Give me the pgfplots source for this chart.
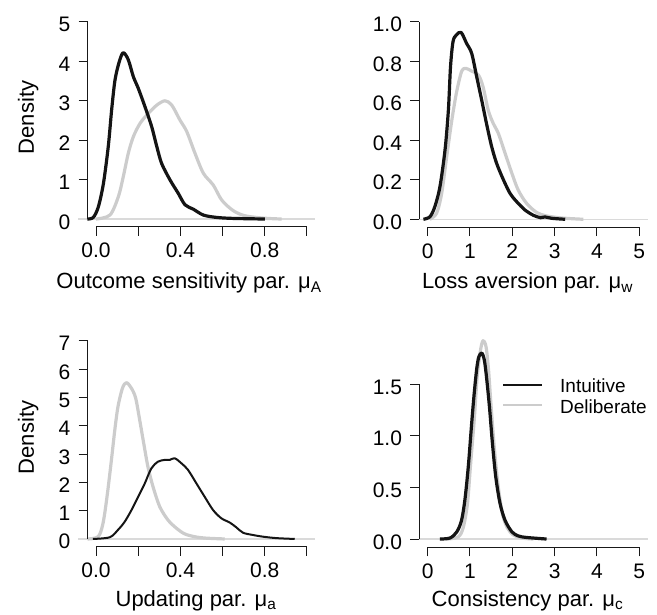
\documentclass[border=0pt]{standalone}
\usepackage{fontspec}
\setmainfont{Liberation Sans}
\usepackage{pgfplots}
\pgfplotsset{compat=1.18}
\definecolor{intu}{HTML}{141414}
\definecolor{delib}{HTML}{CCCCCC}
\definecolor{zerogray}{HTML}{DADADA}

\pgfplotsset{
  rpanel/.style={
    scale only axis, clip=false, anchor=south west,
    axis lines*=left, axis line style={draw=none},
    tick align=outside, major tick length=9pt,
    major tick style={draw=black!90, line width=1pt},
    tick label style={font=\fontsize{21}{25}\selectfont, inner sep=0pt},
    xticklabel style={anchor=base, yshift=-22pt},
    yticklabel style={anchor=base east, xshift=-8pt, yshift=-10pt},
  },
  dens/.style={smooth, line width=3.2pt, line join=round, no marks},
  zeroline/.style={zerogray, line width=1.3pt, no marks, forget plot},
}
\tikzset{axisline/.style={draw=black!90, line width=1pt}}

\begin{document}
\begin{tikzpicture}
\path[use as bounding box] (0,0) rectangle (657pt,615pt);

% top left
\begin{axis}[rpanel, at={(87.6pt,388.1pt)}, width=227.8pt, height=212.8pt,
  xmin=-0.04, xmax=1.04, ymin=-0.2, ymax=5.2,
  xtick={0,0.2,0.4,0.6,0.8,1}, xticklabels={0.0,,0.4,,0.8,},
  ytick={0,1,2,3,4,5}, yticklabels={0,1,2,3,4,5}]
\addplot[zeroline] coordinates {(-0.085,0) (1.04,0)};
\addplot[dens, delib] coordinates {
 (0.0,0) (0.066,0.1) (0.106,0.57) (0.129,1.07) (0.153,1.67) (0.177,2.09)
 (0.209,2.43) (0.248,2.68) (0.288,2.89) (0.327,3.0) (0.359,2.89) (0.398,2.51)
 (0.43,2.22) (0.469,1.67) (0.509,1.16) (0.556,0.86) (0.596,0.48) (0.651,0.21)
 (0.708,0.08) (0.8,0.02) (0.88,0)};
\addplot[dens, intu] coordinates {
 (-0.041,0) (-0.013,0.04) (0.011,0.31) (0.035,0.9) (0.058,1.84) (0.074,2.77)
 (0.09,3.53) (0.11,3.99) (0.129,4.22) (0.153,4.04) (0.177,3.61) (0.2,3.32)
 (0.232,2.85) (0.264,2.34) (0.288,1.84) (0.311,1.41) (0.351,0.99) (0.39,0.65)
 (0.422,0.36) (0.461,0.25) (0.509,0.1) (0.572,0.04) (0.65,0.015) (0.8,0)};
\draw[axisline] (axis cs:0,-0.2) -- (axis cs:1,-0.2);
\draw[axisline] (axis cs:-0.04,0) -- (axis cs:-0.04,5);
\end{axis}

% top right
\begin{axis}[rpanel, at={(419.2pt,387.8pt)}, width=228.5pt, height=213.4pt,
  xmin=-0.2, xmax=5.2, ymin=-0.04, ymax=1.04,
  xtick={0,1,2,3,4,5}, xticklabels={0,1,2,3,4,5},
  ytick={0,0.2,0.4,0.6,0.8,1}, yticklabels={0.0,0.2,0.4,0.6,0.8,1.0}]
\addplot[zeroline] coordinates {(-0.2,0) (5.2,0)};
\addplot[dens, delib] coordinates {
 (0.05,0) (0.21,0.03) (0.33,0.13) (0.45,0.317) (0.57,0.5) (0.68,0.64)
 (0.8,0.747) (0.9,0.764) (1.04,0.75) (1.2,0.73) (1.31,0.67) (1.43,0.553)
 (1.55,0.485) (1.67,0.435) (1.83,0.334) (1.99,0.233) (2.14,0.148) (2.34,0.08)
 (2.58,0.034) (2.81,0.017) (3.2,0.006) (3.68,0)};
\addplot[dens, intu] coordinates {
 (-0.1,0) (0.054,0.013) (0.17,0.064) (0.29,0.165) (0.41,0.35) (0.49,0.553)
 (0.54,0.772) (0.6,0.9) (0.68,0.933) (0.79,0.946) (0.92,0.89) (1.04,0.84)
 (1.16,0.72) (1.28,0.6) (1.39,0.485) (1.51,0.37) (1.63,0.283) (1.79,0.2)
 (1.95,0.13) (2.1,0.09) (2.3,0.047) (2.5,0.02) (2.67,0.008) (2.77,0.012)
 (2.93,0.005) (3.25,0)};
\draw[axisline] (axis cs:0,-0.04) -- (axis cs:5,-0.04);
\draw[axisline] (axis cs:-0.2,0) -- (axis cs:-0.2,1);
\end{axis}

% bottom left
\begin{axis}[rpanel, at={(87.6pt,68.1pt)}, width=227.8pt, height=214.1pt,
  xmin=-0.04, xmax=1.04, ymin=-0.28, ymax=7.28,
  xtick={0,0.2,0.4,0.6,0.8,1}, xticklabels={0.0,,0.4,,0.8,},
  ytick={0,1,2,3,4,5,6,7}, yticklabels={0,1,2,3,4,5,6,7}]
\addplot[zeroline] coordinates {(-0.085,0) (1.04,0)};
\addplot[dens, delib] coordinates {
 (-0.04,0) (0.01,0.08) (0.033,0.55) (0.052,1.49) (0.073,2.79) (0.089,3.85)
 (0.104,4.67) (0.125,5.32) (0.144,5.52) (0.168,5.32) (0.188,4.97) (0.207,4.2)
 (0.226,3.38) (0.246,2.55) (0.27,1.85) (0.302,1.14) (0.341,0.67) (0.381,0.38)
 (0.42,0.18) (0.467,0.08) (0.52,0.03) (0.61,0)};
\addplot[dens, intu, line width=2pt] coordinates {
 (-0.015,0) (0.065,0.06) (0.104,0.32) (0.136,0.61) (0.168,1.02) (0.2,1.49)
 (0.231,1.96) (0.262,2.49) (0.294,2.73) (0.325,2.79) (0.349,2.79) (0.373,2.85)
 (0.405,2.67) (0.436,2.44) (0.476,1.96) (0.515,1.49) (0.555,1.02) (0.594,0.73)
 (0.634,0.58) (0.665,0.41) (0.697,0.22) (0.744,0.14) (0.792,0.08) (0.855,0.03)
 (0.942,0)};
\draw[axisline] (axis cs:0,-0.28) -- (axis cs:1,-0.28);
\draw[axisline] (axis cs:-0.04,0) -- (axis cs:-0.04,7);
\end{axis}

% bottom right
\begin{axis}[rpanel, at={(419.2pt,67.7pt)}, width=228.5pt, height=218pt,
  xmin=-0.2, xmax=5.2, ymin=-0.08, ymax=2.03,
  xtick={0,1,2,3,4,5}, xticklabels={0,1,2,3,4,5},
  ytick={0,0.5,1,1.5}, yticklabels={0.0,0.5,1.0,1.5}]
\addplot[zeroline] coordinates {(-0.2,0) (5.2,0)};
\addplot[dens, delib] coordinates {
 (0.45,0) (0.72,0.02) (0.84,0.11) (0.94,0.34) (1.01,0.7) (1.1,1.15)
 (1.17,1.57) (1.25,1.83) (1.31,1.92) (1.38,1.86) (1.44,1.63) (1.5,1.28)
 (1.58,0.86) (1.67,0.5) (1.77,0.24) (1.88,0.11) (2.02,0.04) (2.22,0.01) (2.5,0)};
\addplot[dens, intu] coordinates {
 (0.29,0) (0.53,0.01) (0.69,0.07) (0.8,0.18) (0.88,0.38) (0.96,0.7)
 (1.04,1.12) (1.1,1.41) (1.16,1.65) (1.21,1.765) (1.28,1.8) (1.34,1.73)
 (1.39,1.57) (1.46,1.28) (1.53,0.93) (1.61,0.6) (1.71,0.345) (1.83,0.18)
 (1.99,0.07) (2.14,0.03) (2.34,0.015) (2.81,0)};
\draw[axisline] (axis cs:0,-0.08) -- (axis cs:5,-0.08);
\draw[axisline] (axis cs:-0.2,0) -- (axis cs:-0.2,1.5);
\end{axis}

% axis titles
\begin{scope}[every node/.style={font=\fontsize{22}{26}\selectfont, inner sep=0pt}]
\node[anchor=base] at (189pt,326pt) {Outcome sensitivity par. μ\textsubscript{A}};
\node[anchor=base] at (527.5pt,326pt) {Loss aversion par. μ\textsubscript{w}};
\node[anchor=base] at (196pt,8.5pt) {Updating par. μ\textsubscript{a}};
\node[anchor=base] at (527.5pt,8.5pt) {Consistency par. μ\textsubscript{c}};
\node[anchor=base, rotate=90] at (34pt,497.5pt) {Density};
\node[anchor=base, rotate=90] at (34pt,177.5pt) {Density};
\end{scope}

% legend
\draw[intu, line width=2pt] (503.3pt,230pt) -- (541.7pt,230pt);
\draw[delib, line width=2pt] (503.3pt,210pt) -- (541.7pt,210pt);
\node[anchor=base west, inner sep=0pt, font=\fontsize{19}{21}\selectfont] at (560pt,222.3pt) {Intuitive};
\node[anchor=base west, inner sep=0pt, font=\fontsize{19}{21}\selectfont] at (560pt,201.7pt) {Deliberate};
\end{tikzpicture}
\end{document}
